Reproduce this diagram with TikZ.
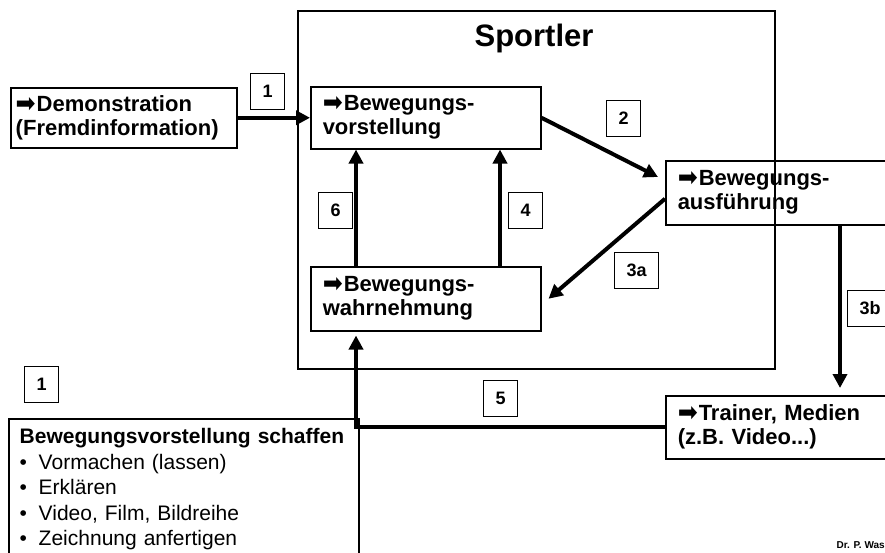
\documentclass[tikz,border=0pt]{standalone}
\usepackage{fontspec}
\setmainfont{Liberation Sans}
\newfontfamily\arrowfont{DejaVu Sans}
\usepackage{graphicx}
\usepackage{tikz}
\usetikzlibrary{arrows.meta}

\newcommand{\pfeil}{\raisebox{-1pt}{\resizebox{20pt}{15pt}{\arrowfont\mdseries ➡}}\hspace{1pt}}
\newcommand{\boxfont}{\bfseries\fontsize{22}{24}\selectfont}
\newcommand{\listfont}{\fontsize{21}{25.5}\selectfont}
\newcommand{\punkt}{\makebox[19pt][l]{\textbullet}}

\begin{document}
\begin{tikzpicture}
			[x=1pt,y=-1pt,
			%Styles
			rahmen/.style={draw,line width=1.5pt},
			txtbox/.style={draw,line width=1.5pt,anchor=north west,align=left,font=\boxfont,inner xsep=12pt,inner ysep=0pt},
			numbox/.style={draw,line width=1pt,anchor=north west,font=\bfseries\fontsize{18}{18}\selectfont,minimum width=34pt,minimum height=36pt,inner xsep=12pt,inner ysep=0pt},
			flow/.style={line width=4pt,-{Triangle[length=14pt,width=14pt]}}
			]
			\useasboundingbox (0,0) rectangle (885,552);
			
			%The graphic
			\node [rahmen,anchor=north west,minimum width=477pt,minimum height=358pt,inner sep=0pt] (sportler) at (297,10) {};
			\node [anchor=base,font=\bfseries\fontsize{31}{31}\selectfont] (titel) at (534,46) {Sportler};
			
			\node [txtbox,inner xsep=5pt,text width=216pt,minimum height=60pt] (demo) at (10,87) {\pfeil Demonstration\\(Fremdinformation)};
			\node [txtbox,text width=206pt,minimum height=62pt] (vorst) at (310,86) {\pfeil Bewegungs-\\vorstellung};
			\node [txtbox,text width=206pt,minimum height=64pt] (ausf) at (665,160) {\pfeil Bewegungs-\\ausführung};
			\node [txtbox,text width=206pt,minimum height=64pt] (wahrn) at (310,266) {\pfeil Bewegungs-\\wahrnehmung};
			\node [txtbox,text width=206pt,minimum height=63pt] (trainer) at (665,395) {\pfeil Trainer, Medien\\(z.B. Video...)};
			\node [txtbox,inner xsep=11pt,inner ysep=10pt,font=\listfont,text width=328pt] (schaffen) at (8,418) {\textbf{Bewegungsvorstellung schaffen}\\\punkt Vormachen (lassen)\\\punkt Erklären\\\punkt Video, Film, Bildreihe\\\punkt Zeichnung anfertigen};
			
			%Numbers
			\node [numbox] (n1) at (250,73) {1};
			\node [numbox] (n2) at (606,100) {2};
			\node [numbox] (n6) at (318,192) {6};
			\node [numbox] (n4) at (508,192) {4};
			\node [numbox] (n3a) at (614,252) {3a};
			\node [numbox] (n3b) at (847,290) {3b};
			\node [numbox] (n5) at (483,380) {5};
			\node [numbox] (n1b) at (24,366) {1};
			
			%Arrows
			\draw[flow] (demo.east) -- (vorst.west);
			\draw[flow] (vorst.east) -- ([xshift=-7pt,yshift=-17pt]ausf.north west);
			\draw[flow] ([yshift=-6pt]ausf.west) -- ([xshift=7pt]wahrn.east);
			\draw[flow] ([xshift=46pt]wahrn.north west) -- ([xshift=46pt]vorst.south west);
			\draw[flow] ([xshift=190pt]wahrn.north west) -- ([xshift=190pt]vorst.south west);
			\draw[flow] ([xshift=175pt]ausf.south west) -- ([xshift=175pt,yshift=7pt]trainer.north west);
			\draw[flow] (trainer.west) -| ([xshift=46pt,yshift=-4pt]wahrn.south west);
			
			\node [anchor=base west,font=\bfseries\fontsize{10}{10}\selectfont] (autor) at (833,548) {Dr. P. Was};
		\end{tikzpicture}
\end{document}
